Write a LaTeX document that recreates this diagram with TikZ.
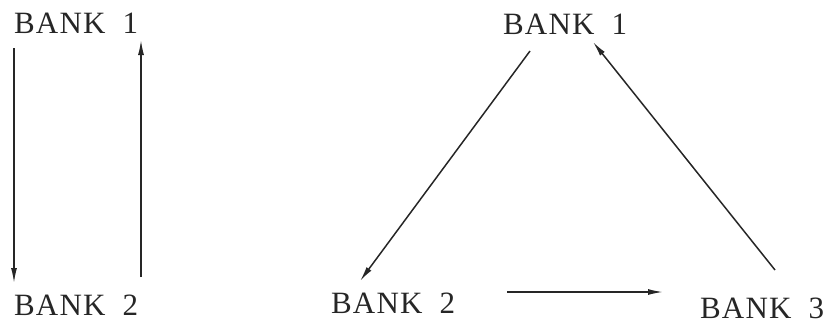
\documentclass[tikz,border=0pt]{standalone}
\usepackage{fontspec}
\setmainfont{Liberation Serif}[LetterSpace=4]
\usetikzlibrary{arrows.meta}
\newcommand{\bk}[1]{BANK\hspace{17pt}#1}
\begin{document}
\begin{tikzpicture}[x=1pt,y=-1pt,
  lbl/.style={inner sep=0pt,outer sep=0pt,text=black!85,font=\fontsize{31}{36}\selectfont},
  conn/.style={draw=black!85,line width=1.5pt,-{Latex[length=15pt,width=6pt]}}]
\useasboundingbox (0,0) rectangle (834,324);
\node[lbl,anchor=base west] (lb1) at (14,33) {\bk{1}};
\node[lbl,anchor=base west] (lb2) at (14,315) {\bk{2}};
\node[lbl,anchor=base west] (rb1) at (503,34) {\bk{1}};
\node[lbl,anchor=base west] (rb2) at (331,313) {\bk{2}};
\node[lbl,anchor=base west] (rb3) at (700,318) {\bk{3}};
\draw[conn] ([yshift=-15pt]lb1.base west) -- ([yshift=32pt]lb2.base west);
\draw[conn] ([xshift=127pt,yshift=38pt]lb2.base west) -- ([xshift=127pt,yshift=-7pt]lb1.base west);
\draw[conn] ([xshift=27pt,yshift=-17pt]rb1.base west) -- ([xshift=29pt,yshift=32pt]rb2.base west);
\draw[conn] ([xshift=75pt,yshift=48pt]rb3.base west) -- ([xshift=90pt,yshift=-8pt]rb1.base west);
\draw[conn] ([xshift=176pt,yshift=21pt]rb2.base west) -- ([xshift=-37pt,yshift=26pt]rb3.base west);
\end{tikzpicture}
\end{document}
